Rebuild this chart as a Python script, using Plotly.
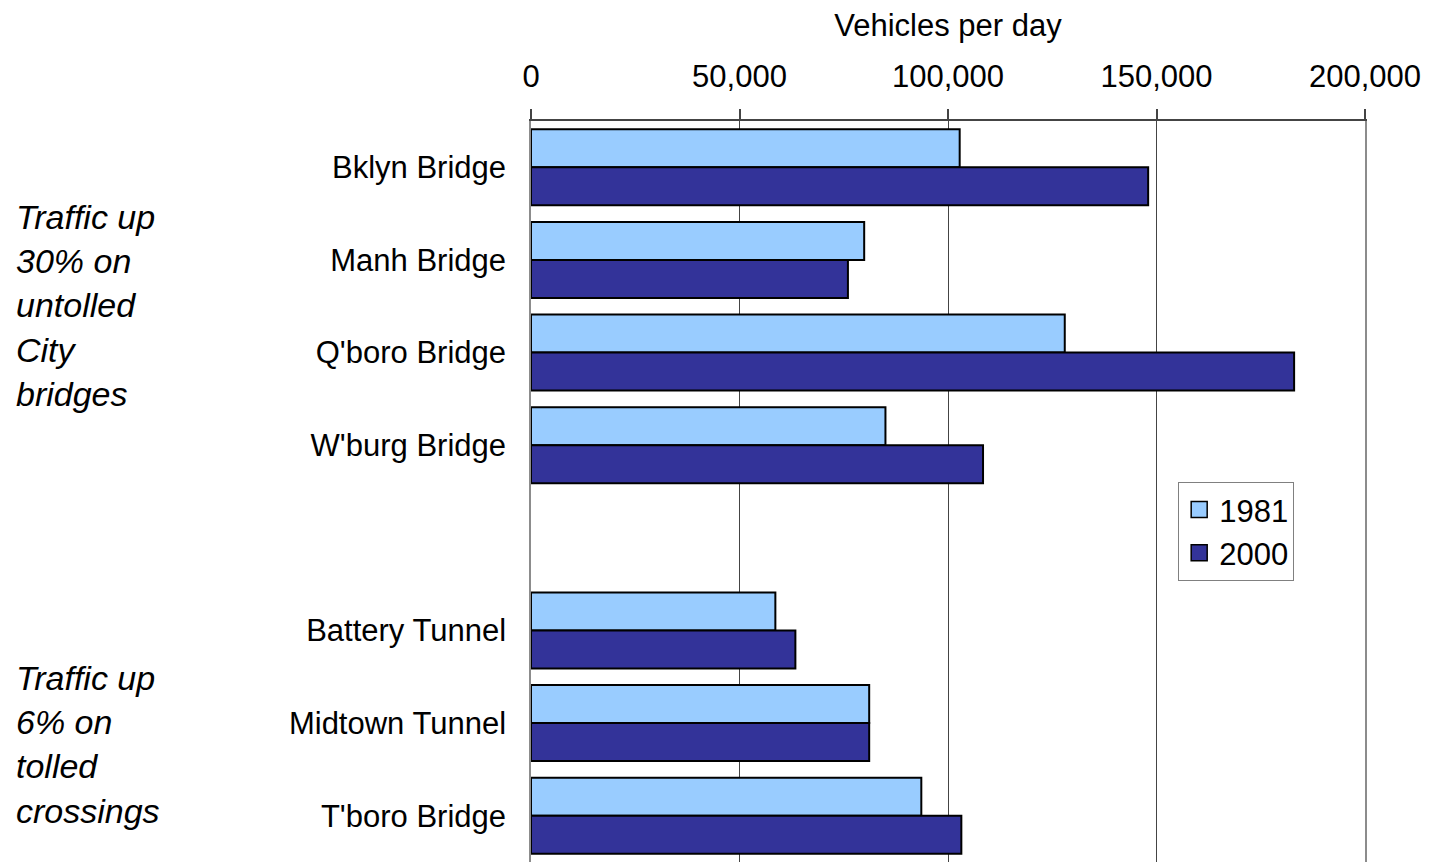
import plotly.graph_objects as go

crossings = ["Bklyn Bridge", "Manh Bridge", "Q'boro Bridge", "W'burg Bridge", " ",
             "Battery Tunnel", "Midtown Tunnel", "T'boro Bridge"]
vol_1981 = [102800, 79900, 128000, 85000, None, 58600, 81100, 93600]
vol_2000 = [148000, 76000, 183000, 108400, None, 63400, 81100, 103200]
series_names = ["1981", "2000"]
series_colors = ["#99CCFF", "#333399"]
x_ticks = [0, 50000, 100000, 150000, 200000]
x_ticktext = ["0", "50,000", "100,000", "150,000", "200,000"]
notes = ["Traffic up<br>30% on<br>untolled<br>City<br>bridges",
         "Traffic up<br>6% on<br>tolled<br>crossings"]

FONT = "Liberation Sans, Arial, sans-serif"

fig = go.Figure()
for name, vals, col in zip(series_names, [vol_1981, vol_2000], series_colors):
    fig.add_trace(go.Bar(
        y=crossings, x=vals, orientation="h", name=name,
        marker=dict(color=col, line=dict(color="black", width=2)),
        showlegend=False,
    ))
    fig.add_trace(go.Scatter(
        x=[None], y=[None], mode="markers", name=name,
        marker=dict(symbol="square", size=16, color=col,
                    line=dict(color="black", width=1.5)),
        showlegend=True,
    ))

# page body has an 8px margin: compensate so the plot lands where the reference has it
fig.update_layout(
    width=1435, height=862,
    margin=dict(l=523, r=78, t=113, b=8, pad=0),
    paper_bgcolor="white", plot_bgcolor="white",
    font=dict(family=FONT, size=31, color="black"),
    barmode="group", bargap=0.18, bargroupgap=0,
    legend=dict(x=0.776, y=0.513, xanchor="left", yanchor="top",
                bordercolor="#808080", borderwidth=1, bgcolor="white",
                font=dict(size=31), itemwidth=30, tracegroupgap=0),
    xaxis=dict(
        side="top", range=[0, 200000], tickvals=x_ticks, ticktext=x_ticktext,
        showgrid=True, gridcolor="#444444", gridwidth=1,
        showline=True, linecolor="#444444", linewidth=1.5,
        ticks="outside", ticklen=10, tickcolor="#444444", tickwidth=1.5,
        zeroline=False, automargin=False, ticklabelstandoff=10,
        title=dict(text="Vehicles per day", font=dict(size=31), standoff=16),
        tickfont=dict(size=31), fixedrange=True,
    ),
    yaxis=dict(
        type="category", categoryorder="array", categoryarray=crossings,
        range=[7.5, -0.5], showgrid=False, zeroline=False,
        showline=True, mirror=True, linecolor="#8c8c8c", linewidth=1.5,
        ticks="", tickfont=dict(size=31), ticklabelstandoff=17,
        automargin=False, fixedrange=True, layer="below traces",
    ),
    annotations=[
        dict(text=notes[0], xref="paper", yref="paper", x=-0.62, y=0.751,
             xanchor="left", yanchor="middle", align="left", showarrow=False,
             font=dict(size=34, family=FONT, style="italic")),
        dict(text=notes[1], xref="paper", yref="paper", x=-0.62, y=0.158,
             xanchor="left", yanchor="middle", align="left", showarrow=False,
             font=dict(size=34, family=FONT, style="italic")),
    ],
)

fig.write_html("out.html")
